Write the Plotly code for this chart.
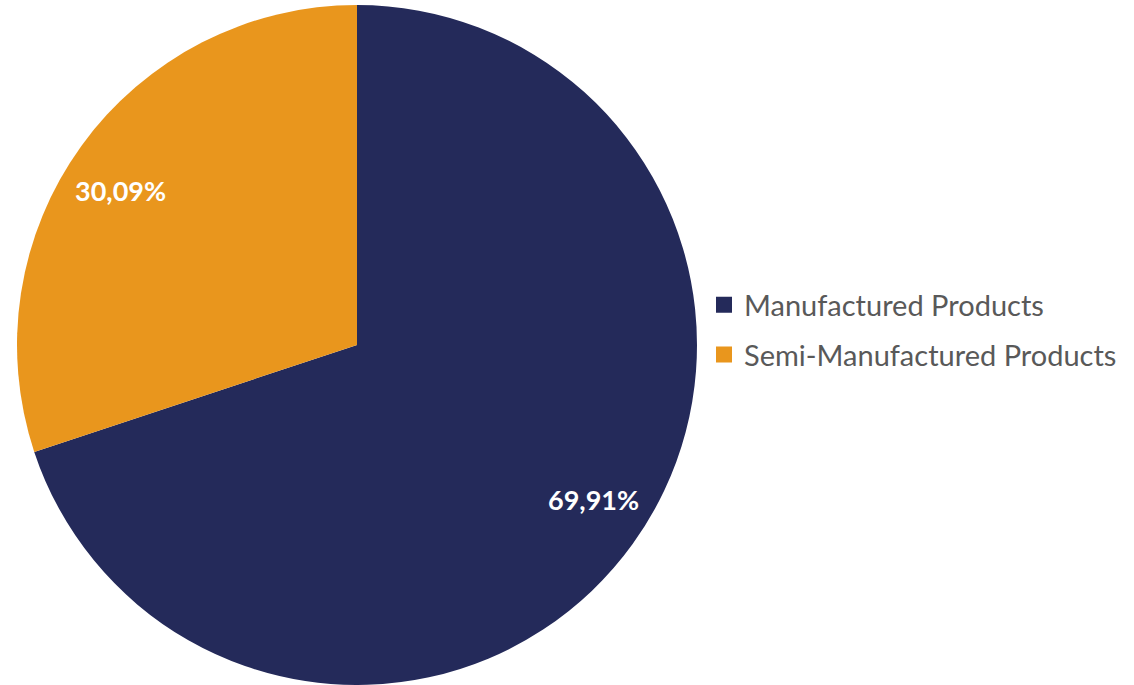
import math
import plotly.graph_objects as go

# Share of exports by product category (percent)
categories = ["Manufactured Products", "Semi-Manufactured Products"]
shares = [69.91, 30.09]
colors = ["#242A5A", "#E9961D"]

W, H = 1134, 685
PIE_X = [17 / W, 697 / W]
PIE_Y = [0, 680 / H]
LABEL_RADIUS = 0.83   # fraction of pie radius where value labels sit
LABEL_SHIFT = -2.6    # degrees, small counter-clockwise nudge of labels

fig = go.Figure()

fig.add_trace(
    go.Pie(
        labels=categories,
        values=shares,
        sort=False,
        direction="clockwise",
        rotation=0,
        marker=dict(colors=colors, line=dict(width=0)),
        textinfo="none",
        domain=dict(x=PIE_X, y=PIE_Y),
        hoverinfo="label+percent",
        showlegend=False,
    )
)

# Value labels placed along each slice's mid-angle
cx = (PIE_X[0] + PIE_X[1]) / 2
cy = (PIE_Y[0] + PIE_Y[1]) / 2
rx = (PIE_X[1] - PIE_X[0]) / 2
ry = (PIE_Y[1] - PIE_Y[0]) / 2
total = sum(shares)
start = 0.0
for val in shares:
    mid = (start + val / 2) / total * 2 * math.pi + math.radians(LABEL_SHIFT)
    start += val
    fig.add_annotation(
        x=cx + LABEL_RADIUS * rx * math.sin(mid),
        y=cy + LABEL_RADIUS * ry * math.cos(mid),
        xref="paper",
        yref="paper",
        xanchor="center",
        yanchor="middle",
        text=f"{val:.2f}%".replace(".", ","),
        showarrow=False,
        font=dict(family="Lato", size=27, color="white", weight="bold"),
    )

# Legend entries
for name, col in zip(categories, colors):
    fig.add_trace(
        go.Scatter(
            x=[None],
            y=[None],
            mode="markers",
            name=name,
            legendgroup=name,
            marker=dict(symbol="square", size=16, color=col),
            showlegend=True,
        )
    )

fig.update_layout(
    width=W,
    height=H,
    margin=dict(l=0, r=0, t=0, b=0),
    paper_bgcolor="white",
    plot_bgcolor="white",
    xaxis=dict(visible=False),
    yaxis=dict(visible=False),
    legend=dict(
        x=704 / W,
        y=1 - 330 / H,
        xanchor="left",
        yanchor="middle",
        font=dict(family="Lato", size=29, color="#595959"),
        itemsizing="trace",
        itemwidth=30,
        tracegroupgap=9,
        bgcolor="rgba(0,0,0,0)",
    ),
)

fig.write_html("out.html")
